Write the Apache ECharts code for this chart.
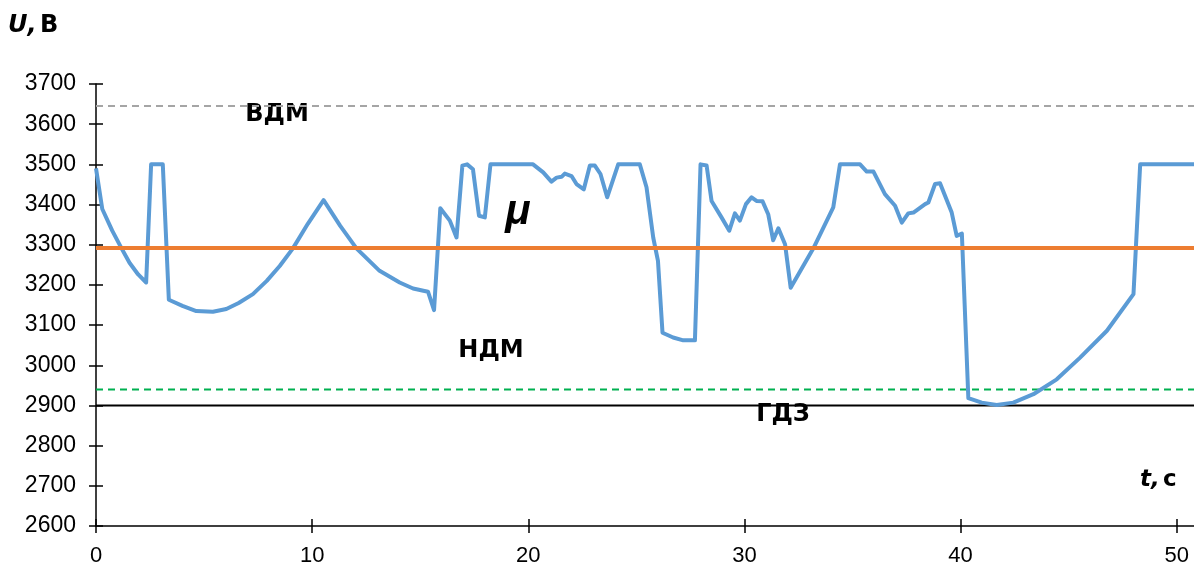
<!DOCTYPE html>
<html><head><meta charset="utf-8">
<script src="https://cdn.jsdelivr.net/npm/echarts@6/dist/echarts.min.js"></script>
<style>html,body{margin:0;padding:0;background:#fff}#c{width:1194px;height:567px}</style>
</head><body><div id="c"></div>
<script>
const tValues = [0, 0.29, 0.75, 1.17, 1.55, 1.95, 2.32, 2.55, 3.09, 3.37, 4.0, 4.64, 5.41, 6.03, 6.6, 7.26, 7.9, 8.5, 9.11, 9.8, 10.53, 11.3, 12.05, 13.12, 14.05, 14.67, 15.36, 15.44, 15.64, 15.93, 16.37, 16.68, 16.95, 17.17, 17.44, 17.72, 17.99, 18.25, 20.22, 20.69, 21.07, 21.31, 21.54, 21.69, 22.0, 22.23, 22.57, 22.85, 23.08, 23.34, 23.65, 24.16, 25.16, 25.47, 25.78, 26.0, 26.21, 26.7, 27.17, 27.71, 27.97, 28.25, 28.48, 28.94, 29.3, 29.56, 29.79, 30.07, 30.33, 30.56, 30.84, 31.1, 31.33, 31.57, 31.88, 32.14, 33.19, 34.11, 34.42, 35.35, 35.66, 35.97, 36.5, 36.97, 37.28, 37.58, 37.82, 38.36, 38.51, 38.82, 39.05, 39.59, 39.82, 40.06, 40.36, 40.98, 41.67, 42.44, 43.37, 44.45, 45.53, 46.77, 48.0, 48.31, 50.8];
const uValues = [3490, 3389, 3335, 3292, 3255, 3226, 3206, 3500, 3500, 3163, 3148, 3135, 3133, 3140, 3155, 3177, 3210, 3247, 3291, 3352, 3411, 3347, 3291, 3235, 3206, 3191, 3183, 3181, 3137, 3391, 3360, 3318, 3497, 3500, 3488, 3372, 3368, 3500, 3500, 3480, 3457, 3467, 3469, 3477, 3471, 3451, 3438, 3497, 3497, 3476, 3418, 3500, 3500, 3443, 3318, 3260, 3081, 3069, 3062, 3062, 3500, 3497, 3409, 3368, 3335, 3378, 3360, 3401, 3418, 3409, 3408, 3376, 3311, 3341, 3301, 3193, 3291, 3393, 3500, 3500, 3482, 3482, 3426, 3397, 3355, 3378, 3380, 3401, 3405, 3451, 3453, 3380, 3322, 3328, 2918, 2907, 2901, 2907, 2928, 2965, 3019, 3086, 3177, 3500, 3500];
const muLevel = 3292;   // μ
const vdmLevel = 3645;  // ВДМ
const ndmLevel = 2940;  // НДМ
const gdzLevel = 2900;  // ГДЗ
const xTicks = [0, 10, 20, 30, 40, 50];
const tMin = 0, tMax = 50.8;
const uMin = 2600, uMax = 3700, uStep = 100;

const NUMFONT = 'Liberation Sans, Arial, sans-serif';
const TXTFONT = 'DejaVu Sans, sans-serif';
const chart = echarts.init(document.getElementById('c'), null, {renderer: 'canvas'});
const curve = tValues.map((t, i) => [t, uValues[i]]);
const hline = v => [[tMin, v], [tMax, v]];

const option = {
  animation: false,
  grid: {left: 96, right: 0, top: 84, bottom: 41, containLabel: false},
  xAxis: [
    {type: 'value', min: tMin, max: tMax, position: 'bottom',
     axisLine: {show: true, onZero: false, lineStyle: {color: '#000', width: 1.5}},
     axisTick: {show: true, length: 7, customValues: xTicks, lineStyle: {color: '#000', width: 1.5}},
     axisLabel: {show: true, customValues: xTicks, margin: 19, fontSize: 22, color: '#000', fontFamily: NUMFONT,
                 formatter: v => String(v)},
     splitLine: {show: false}},
    {type: 'value', min: tMin, max: tMax, position: 'bottom', offset: 0,
     axisLine: {show: false, onZero: false},
     axisTick: {show: true, inside: true, length: 7, customValues: xTicks, lineStyle: {color: '#000', width: 1.5}},
     axisLabel: {show: false}, splitLine: {show: false}}
  ],
  yAxis: [
    {type: 'value', min: uMin, max: uMax, interval: uStep, position: 'left',
     axisLine: {show: true, onZero: false, lineStyle: {color: '#000', width: 1.5}},
     axisTick: {show: true, length: 7, lineStyle: {color: '#000', width: 1.5}},
     axisLabel: {margin: 20, fontSize: 23, color: '#000', fontFamily: NUMFONT, formatter: v => String(v)},
     splitLine: {show: false}},
    {type: 'value', min: uMin, max: uMax, interval: uStep, position: 'left', offset: 0,
     axisLine: {show: false, onZero: false},
     axisTick: {show: true, inside: true, length: 7, lineStyle: {color: '#000', width: 1.5}},
     axisLabel: {show: false}, splitLine: {show: false}}
  ],
  series: [
    {type: 'line', data: hline(vdmLevel), symbol: 'none', silent: true,
     lineStyle: {color: '#A5A5A5', width: 2, type: [7, 5]}},
    {type: 'line', data: hline(ndmLevel), symbol: 'none', silent: true,
     lineStyle: {color: '#00B050', width: 2, type: [7, 5]}},
    {type: 'line', data: hline(gdzLevel), symbol: 'none', silent: true,
     lineStyle: {color: '#000', width: 2}},
    {type: 'line', data: curve, symbol: 'none', silent: true,
     lineStyle: {color: '#5B9BD5', width: 4, join: 'round'}},
    {type: 'line', data: hline(muLevel), symbol: 'none', silent: true, z: 3,
     lineStyle: {color: '#ED7D31', width: 4}}
  ],
  graphic: [
    {type: 'text', left: 8, top: 14, style: {
      text: '{i|U,} {b|В}', fill: '#000',
      rich: {i: {fontSize: 24, fontWeight: 'bold', fontStyle: 'italic', fontFamily: TXTFONT},
             b: {fontSize: 24, fontWeight: 'bold', fontFamily: TXTFONT}}}},
    {type: 'text', left: 1140, top: 469, style: {
      text: '{i|t,} {b|с}', fill: '#000',
      rich: {i: {fontSize: 23, fontWeight: 'bold', fontStyle: 'italic', fontFamily: TXTFONT},
             b: {fontSize: 23, fontWeight: 'bold', fontFamily: TXTFONT}}}},
    {type: 'text', x: 277, y: 115, style: {text: 'ВДМ', fill: '#000', fontSize: 24, fontWeight: 'bold', fontFamily: TXTFONT, align: 'center', verticalAlign: 'middle'}},
    {type: 'text', x: 491, y: 351, style: {text: 'НДМ', fill: '#000', fontSize: 24, fontWeight: 'bold', fontFamily: TXTFONT, align: 'center', verticalAlign: 'middle'}},
    {type: 'text', x: 783, y: 415, style: {text: 'ГДЗ', fill: '#000', fontSize: 24, fontWeight: 'bold', fontFamily: TXTFONT, align: 'center', verticalAlign: 'middle'}},
    {type: 'text', x: 518, y: 212, style: {text: 'μ', fill: '#000', fontSize: 42, fontWeight: 'bold', fontStyle: 'italic', fontFamily: NUMFONT, align: 'center', verticalAlign: 'middle'}}
  ]
};
chart.setOption(option);
</script></body></html>
